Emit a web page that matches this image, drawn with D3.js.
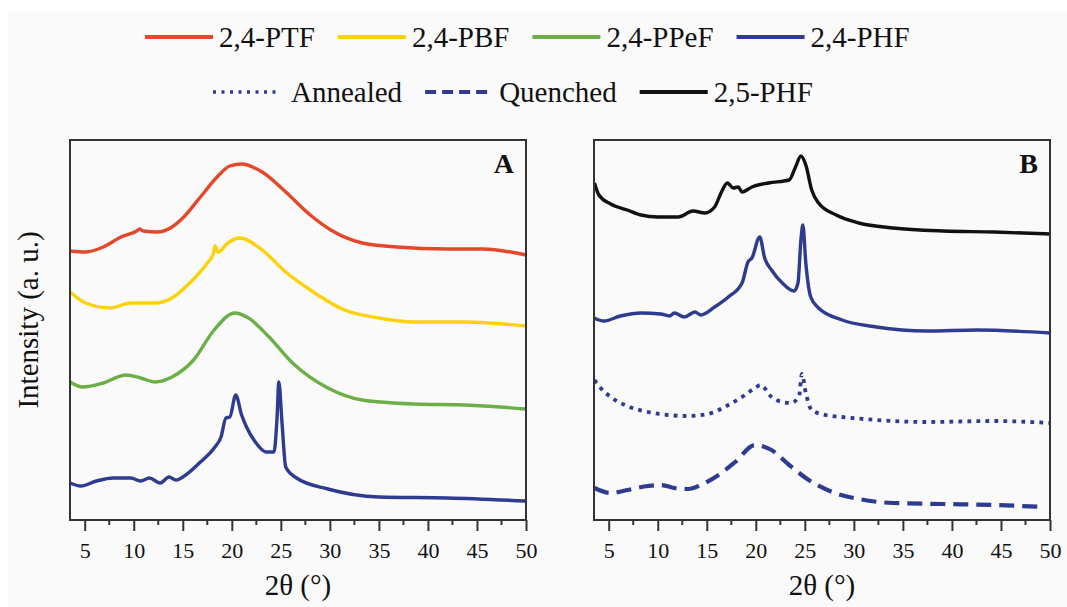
<!DOCTYPE html>
<html>
<head>
<meta charset="utf-8">
<title>XRD patterns</title>
<script src="https://cdn.jsdelivr.net/npm/d3@7"></script>
<style>
  body { margin: 0; background: #ffffff; }
  svg text { font-family: "Liberation Serif", "Times New Roman", serif; fill: #111; }
</style>
</head>
<body>
<script>
// ---- data: 2θ (deg) vs intensity (a.u.) ----
var ptf24 = [[3.5,269],[5.1,268],[6.9,273],[8.7,283],[10.3,289],[10.6,291],[11.0,289],[12.4,288],[13.9,293],[15,302],[16.8,323],[18.5,343],[19.8,354],[21,356],[23.1,348],[25.5,328],[28,305],[30.1,290],[33.3,277],[36.8,273],[42,271],[45.6,271],[50,265]];
var pbf24 = [[3.5,228],[5.1,217],[7.6,212],[9.7,217],[12.2,217],[13.9,222],[15.7,237],[17.5,257],[18.1,266],[18.3,274],[18.6,268],[19.6,277],[20.8,282],[23.1,270],[25.5,248],[28,230],[31.5,210],[35,202],[38.6,198],[43.8,198],[50,194]];
var ppef24 = [[3.5,138],[4.8,133],[6.9,137],[9.2,145],[10.7,142],[12.2,138],[13.9,143],[16.1,160],[18.2,190],[20.3,207],[21.7,202],[23.8,183],[26.2,157],[29.8,132],[33.3,120],[38.6,116],[43.8,115],[50,111]];
var phf24A = [[3.5,37],[4.6,34],[6.2,39],[7.9,42],[9.7,42],[10.7,39],[11.6,42],[12.7,37],[13.6,43],[14.3,40],[15.3,45],[16.8,58],[18.2,72],[18.9,83],[19.4,102],[19.8,103],[20.4,125],[21,105],[21.5,93],[22.4,78],[23.5,68],[24.3,68],[24.6,100],[24.8,138],[25.1,100],[25.5,53],[26.6,42],[29.8,31],[35,23],[42,22],[50,19]];

var phf25 = [[3.55,337],[4.0,325],[5.2,316],[6.9,310],[8.3,305],[10,303],[12.1,303],[13.6,309],[14.8,307],[15.8,313],[16.5,328],[17.1,337],[17.7,332],[18.2,333],[18.6,328],[19.6,333],[21.3,337],[23.4,340],[24.05,353],[24.6,364],[25.1,355],[25.7,330],[26.4,317],[28.2,305],[30.5,297],[34,292],[39.1,289],[44.3,288],[50,286]];
var phf24B = [[3.5,202],[4.5,199],[6.2,204],[8.3,207],[10.3,206],[11.2,204],[11.7,207],[12.7,203],[13.8,208],[14.4,205],[15.8,213],[17.2,223],[18.6,237],[19.2,258],[19.6,262],[20.4,283],[20.9,262],[21.6,250],[22.7,237],[23.9,229],[24.3,237],[24.6,280],[24.8,295],[25.1,257],[25.6,223],[26.4,212],[28.8,200],[32.3,193],[37.4,189],[42.6,190],[50,187]];
var annealed = [[3.55,140],[4.0,134],[5.2,123],[6.9,114],[9,108],[11,105],[13.1,104],[15.1,106],[17.2,115],[18.9,125],[19.9,132],[20.5,135],[21.6,123],[22.7,118],[23.5,117],[24.4,123],[24.7,146],[25.1,127],[25.7,110],[27.1,105],[28.8,103],[32.3,100],[37.4,98],[44.3,99],[50,97]];
var quenched = [[3.55,32],[5.2,27],[6.9,30],[9,34],[10.3,35],[11.7,32],[13.1,31],[14.4,35],[16.2,45],[17.9,58],[19.9,75],[21.6,70],[23.4,55],[25.4,40],[27.8,28],[30.5,21],[34,17],[39.1,16],[44.3,15],[49.4,13]];

var xTicks = [5, 10, 15, 20, 25, 30, 35, 40, 45, 50];
var xMinor = [7.5, 12.5, 17.5, 22.5, 27.5, 32.5, 37.5, 42.5, 47.5];
var legendRow1 = ["2,4-PTF", "2,4-PBF", "2,4-PPeF", "2,4-PHF"];
var legendRow2 = ["Annealed", "Quenched", "2,5-PHF"];

var red = "#e5472b", yellow = "#fdd20a", green = "#6caf46", blue = "#2e3b8f", black = "#111111";
var serif = "'Liberation Serif', 'Times New Roman', serif";

var width = 1067, height = 607;
var svg = d3.select("body").append("svg").attr("width", width).attr("height", height);

svg.append("rect").attr("x", 8).attr("y", 12).attr("width", width - 8).attr("height", height - 12).attr("fill", "#fafafa");

var plotTop = 140, plotBottom = 520;
var y = d3.scaleLinear().domain([0, 380]).range([plotBottom, plotTop]);

var line = function(x) {
	return d3.line().x(function(d){return x(d[0])}).y(function(d){return y(d[1])}).curve(d3.curveMonotoneX);
};

function panel(left, right, letter, series) {
	var x = d3.scaleLinear().domain([3.5, 50]).range([left, right]);
	var g = svg.append("g");

	series.forEach(function(s) {
		g.append("path").datum(s.data)
			.attr("d", line(x))
			.attr("fill", "none")
			.attr("stroke", s.color)
			.attr("stroke-width", s.w || 3.4)
			.attr("stroke-linejoin", "round")
			.attr("stroke-dasharray", s.dash || null);
	});

	// frame
	g.append("rect").attr("x", left).attr("y", plotTop).attr("width", right - left).attr("height", plotBottom - plotTop)
		.attr("fill", "none").attr("stroke", "#333").attr("stroke-width", 2);

	var ax = g.append("g").attr("transform", "translate(0," + plotBottom + ")")
		.call(d3.axisBottom(x).tickValues(xTicks).tickSize(11).tickPadding(11).tickFormat(d3.format("d")));
	ax.select(".domain").remove();
	ax.attr("font-family", null).attr("font-size", null);
	ax.selectAll("line").attr("stroke", "#333").attr("stroke-width", 2);
	ax.selectAll("text").style("font-size", "22px").style("font-family", serif).attr("fill", "#222");

	g.append("g").selectAll("line").data(xMinor).enter().append("line")
		.attr("x1", function(d){return x(d)}).attr("x2", function(d){return x(d)})
		.attr("y1", plotBottom).attr("y2", plotBottom + 5)
		.attr("stroke", "#333").attr("stroke-width", 2);

	g.append("text").attr("x", (left + right) / 2).attr("y", 595)
		.attr("text-anchor", "middle").style("font-size", "29px").style("font-family", serif).text("2θ (°)");

	g.append("text").attr("x", right - 12).attr("y", 173)
		.attr("text-anchor", "end").style("font-size", "28px").style("font-family", serif)
		.style("font-weight", "bold").text(letter);
}

panel(70, 526, "A", [
	{data: ptf24, color: red},
	{data: pbf24, color: yellow},
	{data: ppef24, color: green},
	{data: phf24A, color: blue}
]);

panel(594, 1050, "B", [
	{data: phf25, color: black},
	{data: phf24B, color: blue},
	{data: annealed, color: blue, w: 3.8, dash: "3.8,5.2"},
	{data: quenched, color: blue, w: 4.2, dash: "15,8"}
]);

svg.append("text").attr("transform", "translate(38,320) rotate(-90)")
	.attr("text-anchor", "middle").style("font-size", "29px").style("font-family", serif).text("Intensity (a. u.)");

// legend
function legendRow(labels, styles, startX, ly) {
	var cx = startX;
	labels.forEach(function(lab, i) {
		var st = styles[i];
		svg.append("line").attr("x1", cx).attr("x2", cx + 68).attr("y1", ly - 10).attr("y2", ly - 10)
			.attr("stroke", st.color).attr("stroke-width", st.w || 4)
			.attr("stroke-dasharray", st.dash || null);
		var t = svg.append("text").attr("x", cx + 74 + (st.pad || 0)).attr("y", ly)
			.style("font-size", "29px").style("font-family", serif).text(lab);
		cx = cx + 74 + (st.pad || 0) + t.node().getComputedTextLength() + 23;
	});
}

legendRow(legendRow1, [{color: red}, {color: yellow}, {color: green}, {color: blue}], 145, 47);
legendRow(legendRow2, [{color: blue, w: 3.5, dash: "3,5.5", pad: 4}, {color: blue, dash: "11,6"}, {color: black}], 213, 102);
</script>
</body>
</html>
